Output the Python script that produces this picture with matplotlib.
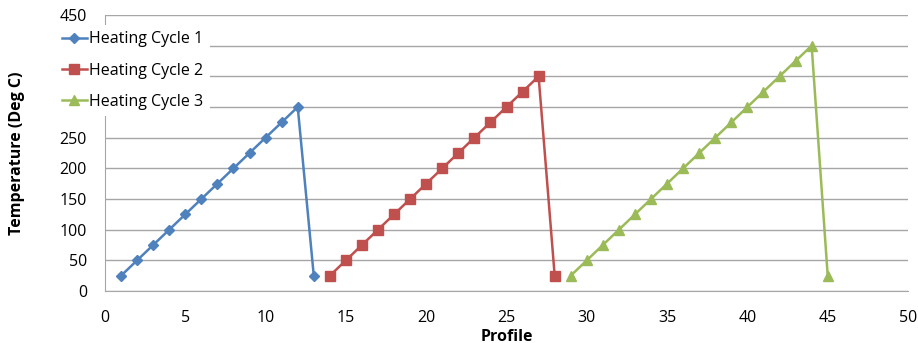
import matplotlib.pyplot as plt

plt.rcParams['font.family'] = ['Open Sans', 'DejaVu Sans']

# profile index and temperature for each heating cycle
profile_1 = [1, 2, 3, 4, 5, 6, 7, 8, 9, 10, 11, 12, 13]
temp_1 = [25, 50, 75, 100, 125, 150, 175, 200, 225, 250, 275, 300, 25]

profile_2 = [14, 15, 16, 17, 18, 19, 20, 21, 22, 23, 24, 25, 26, 27, 28]
temp_2 = [25, 50, 75, 100, 125, 150, 175, 200, 225, 250, 275, 300, 325, 350, 25]

profile_3 = [29, 30, 31, 32, 33, 34, 35, 36, 37, 38, 39, 40, 41, 42, 43, 44, 45]
temp_3 = [25, 50, 75, 100, 125, 150, 175, 200, 225, 250, 275, 300, 325, 350, 375, 400, 25]

labels = ['Heating Cycle 1', 'Heating Cycle 2', 'Heating Cycle 3']

W, H = 918, 343
fig = plt.figure(figsize=(W / 100, H / 100), dpi=100)
# plot area in pixels: x 105..908, y 15..291 (from top)
ax = fig.add_axes([105 / W, (H - 291) / H, (908 - 105) / W, (291 - 15) / H])

ax.plot(profile_1, temp_1, color='#4F81BD', lw=1.8, marker='D', ms=5, label=labels[0])
ax.plot(profile_2, temp_2, color='#C0504D', lw=1.8, marker='s', ms=6.5, label=labels[1])
ax.plot(profile_3, temp_3, color='#9BBB59', lw=1.8, marker='^', ms=7, label=labels[2])

ax.set_xlim(0, 50)
ax.set_ylim(0, 450)
ax.set_xticks(range(0, 51, 5))
ax.set_yticks(range(0, 451, 50))
ax.yaxis.grid(True, color='#A6A6A6', lw=1)
ax.set_axisbelow(True)
ax.tick_params(length=0, labelsize=11.5)
ax.tick_params(axis='x', pad=14)
ax.tick_params(axis='y', pad=13)

for side in ['top', 'right']:
    ax.spines[side].set_visible(False)
for side in ['left', 'bottom']:
    ax.spines[side].set_color('#A6A6A6')

ax.set_xlabel('Profile', fontsize=11.5, fontweight='bold', labelpad=1.5)
ax.set_ylabel('Temperature (Deg C)', fontsize=11.5, fontweight='bold', labelpad=25)

leg = ax.legend(loc='upper left', bbox_to_anchor=(55.6 / W, 1 - 25 / H), bbox_transform=fig.transFigure,
                frameon=True, fancybox=False, edgecolor='none', facecolor='white', framealpha=1,
                fontsize=11.5, handlelength=1.55, handletextpad=0.15, labelspacing=0.95,
                borderpad=0.4, borderaxespad=0)

plt.savefig('out.png', dpi=100)
